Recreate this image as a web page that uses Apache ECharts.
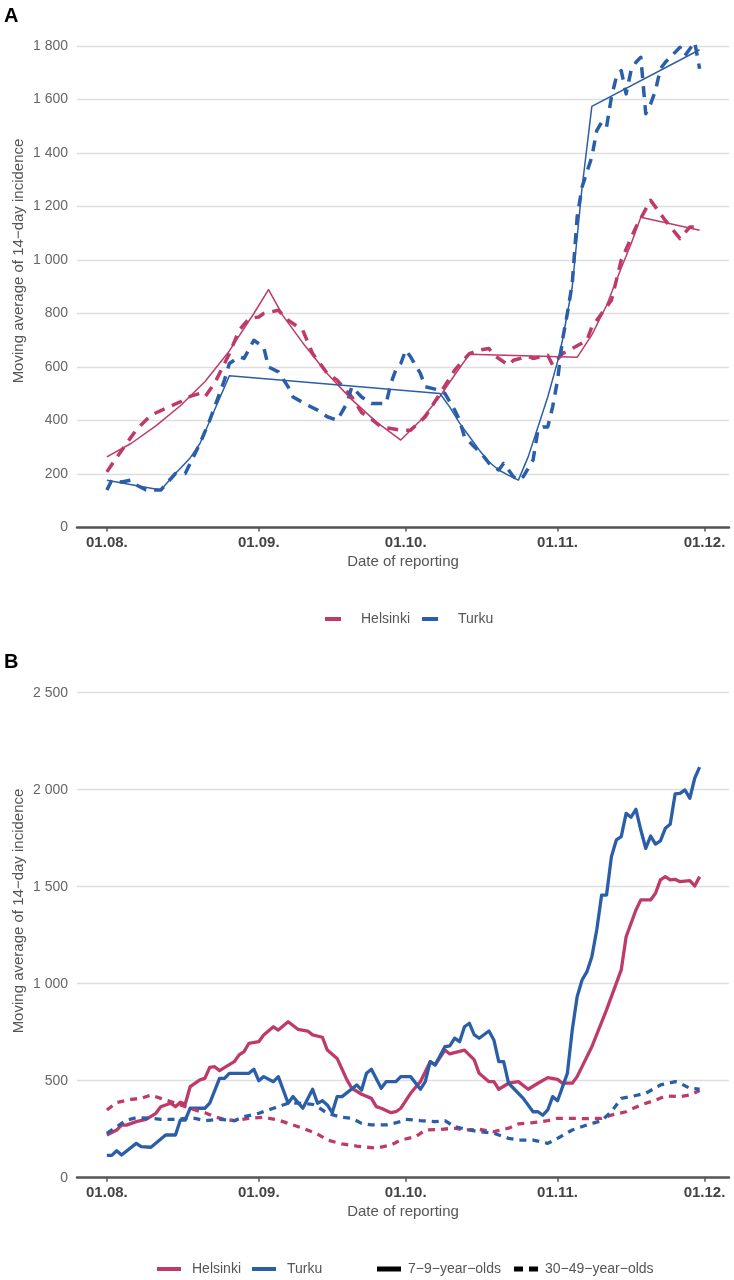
<!DOCTYPE html>
<html>
<head>
<meta charset="utf-8">
<script src="https://cdn.jsdelivr.net/npm/echarts@6/dist/echarts.min.js"></script>
<style>
html,body{margin:0;padding:0;background:#fff;}
#chart{width:734px;height:1280px;}
</style>
</head>
<body>
<div id="chart"></div>
<script>
// x values are days since 01.08.
const tickDays = [0, 31, 61, 92, 122];
const tickLabels = ['01.08.', '01.09.', '01.10.', '01.11.', '01.12.'];
const yTicksA = [0, 200, 400, 600, 800, 1000, 1200, 1400, 1600, 1800];
const yTicksB = [0, 500, 1000, 1500, 2000, 2500];
const cities = ['Helsinki', 'Turku'];
const ageGroups = ['7−9−year−olds', '30−49−year−olds'];

// Panel A: observed (dashed) and fitted trend (thin solid)
const helsinkiObsA = [[0,208],[2,262],[4,314],[6,365],[9,420],[12,445],[15,470],[17,490],[19,501],[20,488],[22,540],[23,576],[25,650],[27,737],[29,781],[31,787],[32,800],[35,812],[37,775],[40,737],[42,650],[45,576],[47,551],[50,488],[52,430],[54,405],[56,376],[58,370],[60,364],[62,364],[65,414],[68,501],[71,588],[74,650],[76,663],[78,669],[79,644],[82,607],[83,625],[86,640],[87,632],[90,644],[91,607],[93,650],[95,669],[98,700],[99,750],[101,800],[103,850],[104,924],[105,999],[108,1123],[111,1223],[114,1148],[117,1080],[119,1123],[120,1123]];
const turkuObsA = [[0,140],[1,177],[3,170],[5,177],[6,159],[8,140],[11,140],[14,202],[16,202],[18,277],[19,314],[21,401],[22,451],[24,551],[25,613],[27,638],[28,632],[30,700],[32,675],[33,600],[35,582],[37,526],[38,488],[41,457],[43,439],[45,414],[47,401],[49,464],[50,526],[52,488],[54,464],[57,464],[58,540],[59,590],[60,613],[61,663],[62,638],[64,576],[65,526],[68,513],[69,501],[71,439],[72,401],[73,339],[75,302],[77,264],[78,240],[80,215],[81,240],[83,190],[84,177],[85,190],[87,252],[88,364],[89,376],[90,376],[91,451],[92,551],[93,700],[94,800],[95,912],[96,1161],[97,1273],[99,1385],[100,1484],[101,1515],[102,1497],[103,1609],[104,1684],[105,1708],[106,1621],[107,1708],[108,1739],[109,1758],[110,1547],[111,1584],[112,1634],[113,1715],[114,1739],[117,1795],[118,1764],[120,1814],[121,1715]];
const helsinkiTrendA = [[0,264],[5,315],[10,380],[15,455],[20,545],[25,660],[30,800],[33,889],[36,790],[40,690],[45,575],[50,478],[55,395],[60,327],[64,400],[68,490],[71,570],[74,648],[85,642],[96,636],[99,720],[102,830],[105,970],[107,1060],[109,1160],[121,1111]];
const turkuTrendA = [[0,177],[11,140],[14,202],[17,260],[19,314],[22,440],[25,567],[68,501],[70,450],[72,390],[74,340],[76,290],[78,245],[80,215],[82,195],[84,177],[86,264],[88,376],[90,488],[92,620],[93,700],[95,900],[97,1270],[99,1574],[121,1786]];

// Panel B: 7-9-year-olds (solid) and 30-49-year-olds (dashed)
const helsinki79 = [[0,220],[2,246],[3,271],[4,271],[6,289],[8,301],[10,332],[11,366],[13,384],[14,366],[15,389],[16,380],[17,469],[19,504],[20,512],[21,569],[22,572],[23,552],[26,598],[27,633],[28,650],[29,693],[31,701],[32,736],[34,778],[35,761],[37,804],[39,765],[41,756],[42,736],[44,724],[45,658],[47,615],[49,504],[50,461],[52,430],[54,409],[55,366],[56,358],[58,335],[59,340],[60,358],[62,435],[64,495],[66,598],[67,581],[69,658],[70,638],[73,658],[75,607],[76,538],[78,495],[79,495],[80,456],[82,487],[84,495],[86,456],[88,487],[90,516],[92,507],[93,487],[95,487],[96,521],[99,675],[102,865],[105,1071],[106,1242],[108,1380],[109,1432],[111,1432],[112,1466],[113,1535],[114,1552],[115,1535],[116,1538],[117,1526],[119,1531],[120,1504],[121,1552]];
const turku79 = [[0,115],[1,115],[2,139],[3,117],[6,177],[7,160],[9,157],[12,220],[14,220],[15,297],[16,297],[17,358],[20,358],[21,384],[23,512],[24,512],[25,538],[29,538],[30,559],[31,500],[32,521],[34,495],[35,521],[37,384],[38,418],[40,358],[42,456],[43,384],[44,397],[45,375],[46,335],[47,418],[48,418],[51,478],[52,452],[53,538],[54,559],[56,461],[57,495],[59,495],[60,521],[62,521],[64,456],[65,495],[66,598],[67,581],[69,675],[70,679],[71,719],[72,701],[73,778],[74,796],[75,736],[76,719],[78,756],[79,710],[80,598],[81,598],[82,487],[83,461],[85,409],[87,340],[88,340],[89,322],[90,349],[91,418],[92,397],[94,538],[95,761],[96,933],[97,1019],[98,1062],[99,1139],[100,1277],[101,1457],[102,1457],[103,1655],[104,1741],[105,1758],[106,1878],[107,1858],[108,1899],[109,1792],[110,1698],[111,1761],[112,1720],[113,1736],[114,1801],[115,1822],[116,1978],[117,1981],[118,1999],[119,1956],[120,2059],[121,2116]];
const helsinki3049 = [[0,349],[2,387],[5,404],[7,409],[9,426],[11,409],[13,392],[15,375],[18,349],[20,335],[22,314],[24,301],[26,294],[29,306],[32,311],[35,297],[37,280],[40,255],[43,225],[45,194],[48,174],[51,163],[52,160],[55,152],[58,169],[60,194],[63,211],[65,246],[68,249],[71,255],[73,246],[76,249],[79,237],[82,255],[84,277],[87,284],[90,294],[92,306],[95,306],[98,304],[101,306],[103,323],[106,340],[109,375],[112,400],[114,421],[117,418],[119,426],[121,449]];
const turku3049 = [[0,229],[2,263],[4,297],[6,309],[9,306],[11,301],[14,301],[16,306],[18,306],[20,294],[23,301],[26,294],[28,314],[31,332],[34,358],[37,384],[39,384],[42,378],[43,366],[45,332],[48,311],[50,306],[52,280],[54,272],[57,272],[60,289],[61,301],[64,294],[67,289],[69,294],[71,263],[74,246],[76,237],[79,229],[82,203],[84,194],[87,194],[90,177],[92,203],[95,246],[98,272],[101,294],[103,340],[105,409],[107,418],[110,435],[113,478],[116,495],[117,487],[119,461],[121,456]];

const HEL = '#be3a6b';
const TUR = '#2b5ea8';
const FONT = '"Liberation Sans", Arial, sans-serif';

function fmtNum(v) { return String(v).replace(/\B(?=(\d{3})+(?!\d))/g, ' '); }

function xAxisFor(gi) {
  return {
    type: 'value', gridIndex: gi, min: -6.1, max: 127,
    name: 'Date of reporting', nameLocation: 'middle', nameGap: 27,
    nameTextStyle: { color: '#555', fontSize: 15, fontFamily: FONT },
    axisLine: { show: true, onZero: false, lineStyle: { color: '#555', width: 2.5 } },
    axisTick: { show: true, customValues: tickDays, length: 4, lineStyle: { color: '#555', width: 1.5 } },
    axisLabel: { customValues: tickDays, margin: 8, color: '#444', fontWeight: 'bold', fontSize: 15, fontFamily: FONT,
      formatter: v => tickLabels[tickDays.indexOf(Math.round(v))] || '' },
    splitLine: { show: false }
  };
}
function yAxisFor(gi, ticks) {
  return {
    type: 'value', gridIndex: gi, min: ticks[0], max: ticks[ticks.length - 1], interval: ticks[1] - ticks[0],
    axisLine: { show: false }, axisTick: { show: false },
    axisLabel: { color: '#666', fontSize: 14, fontFamily: FONT, margin: 9, formatter: v => fmtNum(v) },
    splitLine: { show: true, lineStyle: { color: '#dedede', width: 1.3 } }
  };
}

function line(name, data, color, width, dash, gi, z) {
  return {
    type: 'line', name, data, xAxisIndex: gi, yAxisIndex: gi, showSymbol: false, symbol: 'none',
    clip: false, z: z || 2, silent: true, animation: false,
    itemStyle: { color },
    lineStyle: { color, width, type: dash || 'solid', cap: 'butt', join: 'round' }
  };
}

const chart = echarts.init(document.getElementById('chart'), null, { renderer: 'canvas' });
chart.setOption({
  backgroundColor: '#fff',
  animation: false,
  textStyle: { fontFamily: FONT },
  grid: [
    { left: 77, right: 5, top: 46, height: 481.5 },
    { left: 77, right: 5, top: 692.7, height: 485 }
  ],
  xAxis: [xAxisFor(0), xAxisFor(1)],
  yAxis: [yAxisFor(0, yTicksA), yAxisFor(1, yTicksB)],
  legend: [
    { data: cities, left: 320, top: 607, itemWidth: 16, itemHeight: 4, itemGap: 12, icon: 'rect',
      selectedMode: false, textStyle: { color: '#555', fontSize: 14, fontFamily: FONT, padding: [0, 0, 0, 15] } },
    { data: cities, left: 152, top: 1257, itemWidth: 24, itemHeight: 4, itemGap: 11, icon: 'rect',
      selectedMode: false, textStyle: { color: '#555', fontSize: 14, fontFamily: FONT, padding: [0, 0, 0, 6] } },
    { data: [ { name: ageGroups[0], icon: 'rect' },
              { name: ageGroups[1], icon: 'path://M0,0h9v5h-9zM15,0h9v5h-9z' } ],
      left: 372, top: 1257, itemWidth: 24, itemHeight: 5, itemGap: 13,
      selectedMode: false, textStyle: { color: '#555', fontSize: 14, fontFamily: FONT, padding: [0, 0, 0, 2] } }
  ],
  graphic: [
    { type: 'text', left: 4, top: 6, style: { text: 'A', fontSize: 20, fontWeight: 'bold', fill: '#000', fontFamily: FONT } },
    { type: 'text', left: 4, top: 652, style: { text: 'B', fontSize: 20, fontWeight: 'bold', fill: '#000', fontFamily: FONT } },
    { type: 'text', x: 19, y: 261, rotation: Math.PI / 2,
      style: { text: 'Moving average of 14−day incidence', fontSize: 15, fill: '#555', fontFamily: FONT, align: 'center', verticalAlign: 'middle' } },
    { type: 'text', x: 19, y: 911, rotation: Math.PI / 2,
      style: { text: 'Moving average of 14−day incidence', fontSize: 15, fill: '#555', fontFamily: FONT, align: 'center', verticalAlign: 'middle' } }
  ],
  series: [
    line(cities[0], helsinkiTrendA, HEL, 1.5, null, 0, 3),
    line(cities[1], turkuTrendA, TUR, 1.5, null, 0, 3),
    line(cities[0], helsinkiObsA, HEL, 3.5, [11, 8], 0, 2),
    line(cities[1], turkuObsA, TUR, 3.5, [11, 8], 0, 2),
    line(cities[0], helsinki79, HEL, 3.3, null, 1, 2),
    line(cities[1], turku79, TUR, 3.3, null, 1, 2),
    line(cities[0], helsinki3049, HEL, 3.3, [7, 6], 1, 3),
    line(cities[1], turku3049, TUR, 3.3, [7, 6], 1, 3),
    { type: 'line', name: ageGroups[0], data: [], xAxisIndex: 1, yAxisIndex: 1, itemStyle: { color: '#000' }, lineStyle: { color: '#000' } },
    { type: 'line', name: ageGroups[1], data: [], xAxisIndex: 1, yAxisIndex: 1, itemStyle: { color: '#000' }, lineStyle: { color: '#000', type: 'dashed' } }
  ]
});
</script>
</body>
</html>
